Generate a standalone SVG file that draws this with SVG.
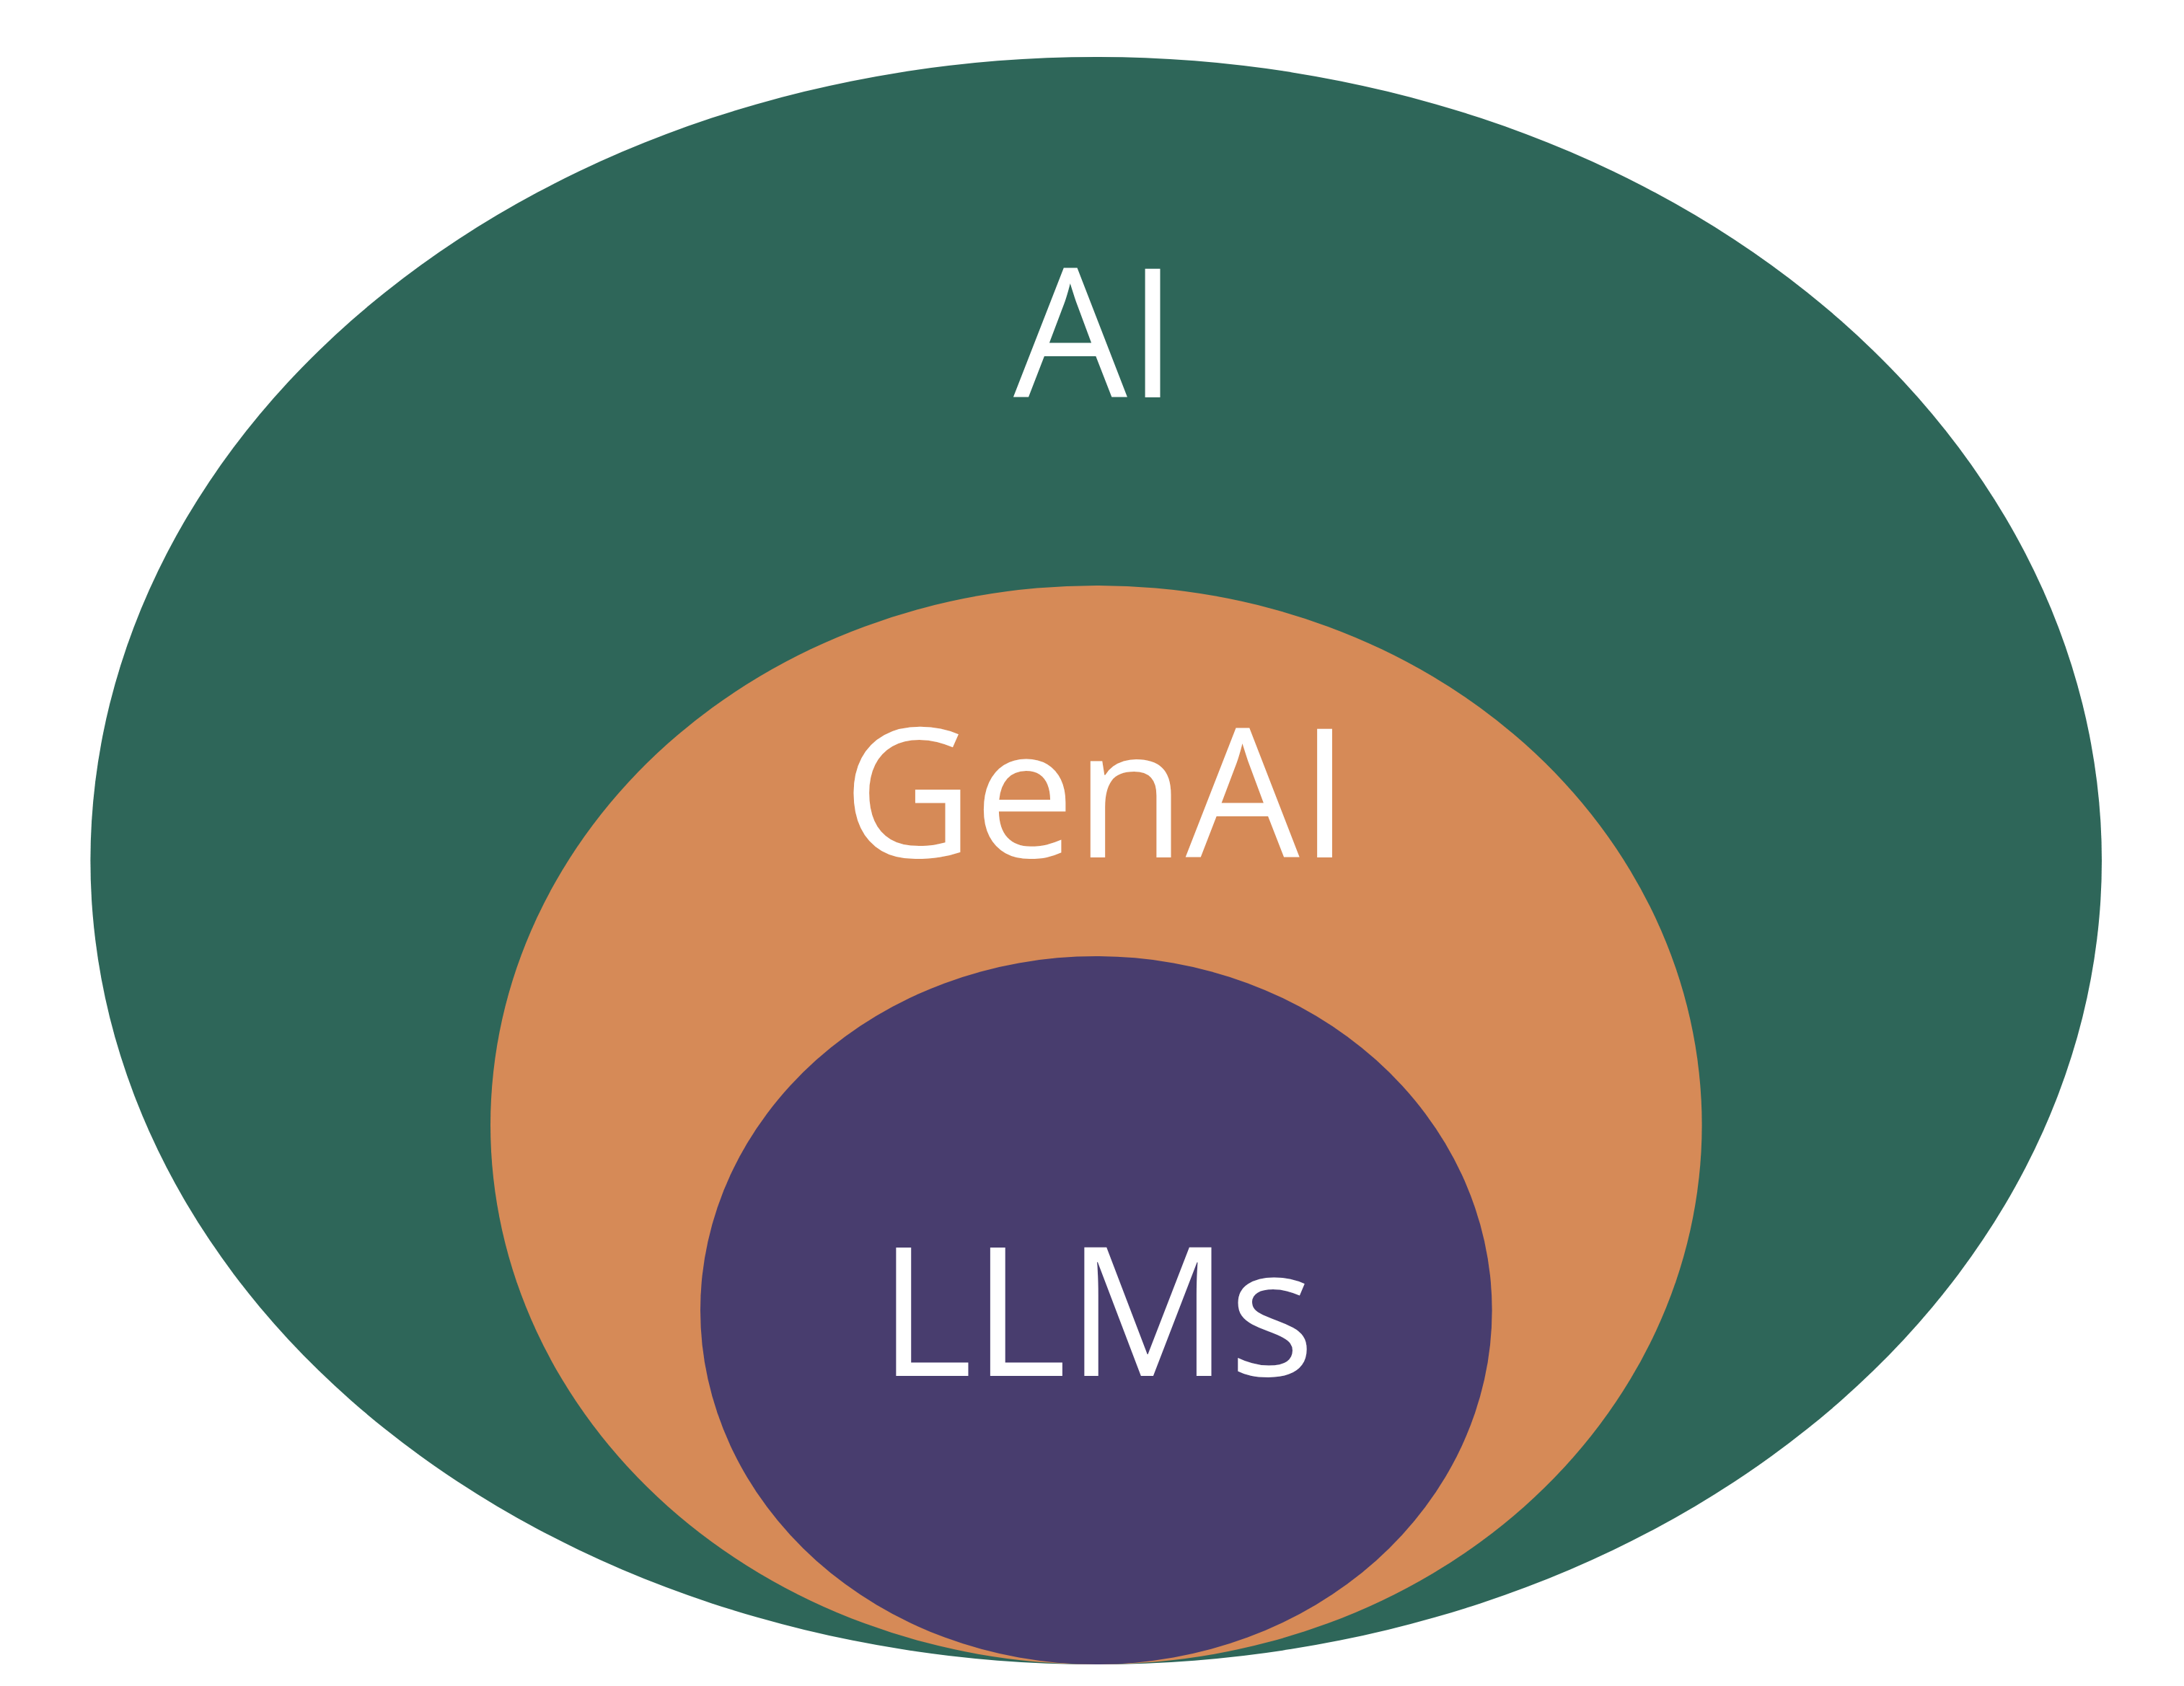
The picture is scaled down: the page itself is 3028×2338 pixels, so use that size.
<svg xmlns="http://www.w3.org/2000/svg" width="3028" height="2338" viewBox="0 0 3028 2338">
<style>
.lbl{font-family:"Open Sans","Noto Sans","Liberation Sans",sans-serif;font-size:250px;fill:#FFFFFF;text-anchor:middle}
</style>
<rect x="0" y="0" width="3028" height="2338" fill="#FFFFFF"/>
<g id="node-ai">
<ellipse cx="1519.7" cy="1193.5" rx="1394.3" ry="1114.5" fill="#2E6659"/>
<text class="lbl" x="1519" y="551">AI</text>
</g>
<g id="node-genai">
<ellipse cx="1519.8" cy="1560" rx="839.8" ry="748" fill="#D68A57"/>
<text class="lbl" x="1520" y="1189">GenAI</text>
</g>
<g id="node-llms">
<ellipse cx="1519.8" cy="1817" rx="548.8" ry="491" fill="#483D6E"/>
<text class="lbl" x="1520.5" y="1908">LLMs</text>
</g>
<g id="connectors"></g>
</svg>
